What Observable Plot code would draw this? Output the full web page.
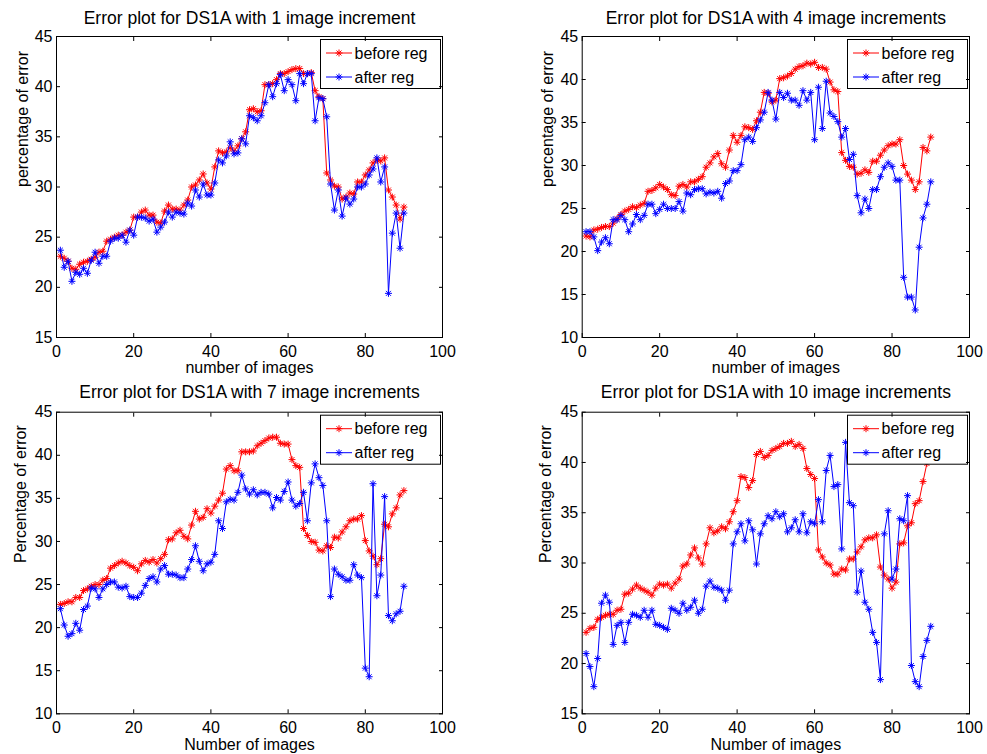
<!DOCTYPE html>
<html><head><meta charset="utf-8">
<script src="https://cdn.jsdelivr.net/npm/d3@7"></script>
<script src="https://cdn.jsdelivr.net/npm/@observablehq/plot@0.6"></script>
<style>
body{margin:0;background:#fff;}
#fig{position:relative;width:987px;height:754px;background:#fff;}
#fig svg{position:absolute;overflow:visible;}
</style></head><body><div id="fig"></div>
<script>
// ---------- data ----------
const xTicks = [0, 20, 40, 60, 80, 100];
const seriesNames = ["before reg", "after reg"];
const seriesColors = ["#ff0000", "#0000ff"];
const titles = [
  "Error plot for DS1A with 1 image increment",
  "Error plot for DS1A with 4 image increments",
  "Error plot for DS1A with 7 image increments",
  "Error plot for DS1A with 10 image increments"
];
const xLabels = ["number of images", "number of images", "Number of images", "Number of images"];
const yLabels = ["percentage of error", "percentage of error", "Percentage of error", "Percentage of error"];
const yTicks1 = [15, 20, 25, 30, 35, 40, 45];
const yTicks2 = [10, 15, 20, 25, 30, 35, 40, 45];
const yTicks3 = [10, 15, 20, 25, 30, 35, 40, 45];
const yTicks4 = [15, 20, 25, 30, 35, 40, 45];

// increment 1
const before1 = [23.1,22.9,22.6,21.9,21.8,22.3,22.5,22.6,22.8,23.0,
  23.5,23.6,24.6,24.8,25.0,25.2,25.2,25.5,25.7,27.0,
  27.0,27.5,27.7,27.2,27.2,26.5,26.4,27.6,28.2,27.8,
  27.8,27.7,28.2,28.7,30.0,30.2,30.7,31.3,30.4,29.8,
  32.0,33.6,33.4,33.5,33.9,33.6,34.1,34.8,35.5,37.7,
  37.8,37.5,37.6,40.2,40.2,40.3,40.7,41.3,41.3,41.5,
  41.7,41.8,41.8,41.3,41.3,41.4,39.6,39.0,38.8,31.4,
  30.7,30.1,30.0,28.8,29.0,29.4,29.3,30.5,30.5,31.2,
  31.7,32.4,32.7,32.6,32.9,29.7,29.0,28.2,26.8,28.0];
const after1 = [23.7,22.0,22.6,20.6,21.5,21.3,21.9,21.4,22.7,23.5,
  22.4,23.1,23.1,24.6,24.9,24.9,25.2,24.5,25.7,25.2,
  27.0,27.0,26.9,26.6,26.8,25.5,26.0,26.5,27.5,27.0,
  27.5,27.4,27.3,28.4,28.1,29.7,29.0,30.3,29.2,29.2,
  30.4,32.7,32.4,33.1,34.5,33.3,33.4,34.8,34.3,37.1,
  36.9,36.6,37.1,38.4,40.2,39.0,40.3,41.2,39.6,40.7,
  40.2,38.6,41.3,40.3,41.3,41.3,36.6,38.9,38.8,37.0,
  30.3,27.7,29.7,27.1,28.9,28.3,28.8,30.0,30.0,30.3,
  31.2,31.8,32.9,30.5,32.0,19.4,25.4,27.4,23.9,27.4];
// increment 4
const before4 = [21.8,21.7,22.5,22.6,22.8,22.9,22.9,23.3,23.8,24.3,
  24.7,24.9,25.2,25.1,25.4,25.6,27.0,27.1,27.4,27.8,
  27.5,27.2,26.6,26.5,27.6,27.8,27.5,28.1,28.1,28.4,
  28.7,29.8,30.3,31.0,31.4,30.2,29.8,31.8,33.5,32.7,
  33.5,34.5,34.4,34.2,35.2,36.2,38.5,38.4,37.4,37.6,
  40.1,40.2,40.4,40.7,41.2,41.5,41.6,41.9,41.8,42.0,
  41.4,41.4,41.2,39.7,38.8,38.6,31.5,30.6,29.9,29.8,
  29.0,29.1,29.5,29.2,30.5,30.5,31.2,31.8,32.3,32.5,
  32.5,33.0,30.0,29.0,28.3,27.2,28.1,32.1,31.7,33.3];
const after4 = [22.3,22.3,21.7,20.1,21.1,21.6,20.9,23.7,23.7,24.2,
  23.7,22.3,23.2,24.3,23.7,24.2,25.5,25.5,24.4,24.9,
  25.5,25.0,25.0,25.0,25.8,24.7,26.8,26.6,27.2,27.3,
  27.3,26.7,26.9,26.8,27.0,26.2,27.9,28.2,29.4,29.4,
  30.1,33.0,33.3,32.8,34.4,35.3,36.2,38.5,37.6,35.4,
  38.5,37.9,38.4,37.6,37.6,37.0,38.7,37.6,38.5,33.0,
  39.1,34.3,39.8,36.1,35.7,35.1,33.3,34.3,30.7,31.3,
  26.5,24.5,26.1,25.0,27.2,27.2,28.7,29.8,30.3,29.9,
  28.3,28.3,17.0,14.7,14.7,13.2,20.5,23.9,25.5,28.1];
// increment 7
const before7 = [22.7,22.8,23.0,23.0,23.5,23.5,24.3,24.5,24.8,25.0,
  25.0,25.5,25.7,26.9,27.2,27.5,27.7,27.5,27.2,27.0,
  26.6,27.4,27.8,27.6,27.9,27.5,28.0,28.5,30.2,30.3,
  31.0,31.3,30.6,30.3,31.9,33.5,32.6,32.8,33.8,33.3,
  34.1,34.8,35.6,38.4,38.8,38.2,38.2,40.4,40.4,40.4,
  40.5,41.1,41.4,41.7,42.0,42.1,42.1,41.4,41.3,41.3,
  39.5,38.8,38.6,31.5,30.7,30.0,29.9,29.0,28.9,29.5,
  29.3,30.5,30.4,31.1,31.7,32.4,32.6,32.6,33.0,30.1,
  28.9,28.3,27.3,28.0,32.0,31.7,33.2,33.9,35.4,35.9];
const after7 = [22.2,20.3,19.0,19.3,20.5,19.7,22.1,22.5,24.6,24.5,
  23.5,24.5,25.0,25.3,25.3,24.7,24.6,24.8,23.6,23.5,
  23.5,24.0,24.9,25.7,25.9,25.3,26.8,27.2,26.2,26.2,
  26.1,25.8,25.8,26.8,27.9,29.5,27.7,26.6,27.4,27.6,
  28.5,32.4,31.5,34.6,34.9,34.8,35.7,37.7,36.1,35.5,
  36.0,35.4,35.7,35.7,35.5,33.9,35.1,34.8,35.8,36.9,
  34.8,34.1,34.4,35.7,32.4,36.8,39.0,37.4,36.5,32.4,
  23.6,26.8,26.2,25.9,25.5,25.5,27.3,26.1,25.8,15.3,
  14.3,36.7,23.7,26.1,35.2,21.4,20.8,21.6,21.9,24.8];
// increment 10
const before10 = [23.1,23.5,23.6,24.4,24.6,24.8,24.9,24.9,25.3,25.4,
  26.9,27.0,27.4,27.8,27.5,27.3,27.1,26.8,27.5,27.9,
  27.8,27.9,27.5,28.0,28.4,29.7,29.9,30.8,31.5,30.5,
  29.9,31.9,33.5,33.0,33.2,33.6,33.4,34.1,35.1,36.2,
  38.6,38.5,37.5,38.2,40.8,41.1,40.5,40.7,41.2,41.4,
  41.6,41.9,41.9,42.1,41.6,41.8,41.4,39.4,38.8,38.4,
  31.3,30.6,30.0,29.8,28.9,28.9,29.4,29.3,30.4,30.4,
  31.1,31.6,32.3,32.5,32.5,32.8,29.6,28.8,28.4,27.5,
  28.1,31.9,32.0,33.7,34.0,35.9,36.2,38.1,39.9,41.8];
const after10 = [21.0,19.7,17.7,20.5,26.0,26.8,26.1,21.9,23.8,24.1,
  22.1,24.1,24.9,24.8,24.6,25.3,24.6,25.3,23.9,23.8,
  23.6,23.4,25.5,25.3,25.0,26.0,25.3,25.6,26.3,25.0,
  25.4,27.7,28.2,27.6,27.5,27.3,26.3,27.3,31.9,33.1,
  33.9,32.2,34.2,33.3,29.9,32.9,33.9,34.7,34.4,35.1,
  34.6,34.9,33.1,33.5,34.3,33.1,34.9,33.0,34.1,33.9,
  36.3,34.1,39.2,40.7,37.6,37.8,31.4,42.0,36.0,35.7,
  27.1,29.2,26.1,25.4,23.1,22.1,18.4,32.9,35.2,28.4,
  29.4,34.4,34.2,36.7,19.8,18.2,17.7,20.7,22.3,23.7];

// ---------- drawing ----------
const FONT = "'Liberation Sans', Arial, Helvetica, sans-serif";
const asterisk = {
  draw(ctx, size) {
    const r = Math.sqrt(size / Math.PI);
    const d = r * Math.SQRT1_2;
    ctx.moveTo(-r, 0); ctx.lineTo(r, 0);
    ctx.moveTo(0, -r); ctx.lineTo(0, r);
    ctx.moveTo(-d, -d); ctx.lineTo(d, d);
    ctx.moveTo(-d, d); ctx.lineTo(d, -d);
  }
};
const R = 3.5;

function legendMark() {
  return (index, scales, values, dims) => {
    const {width, marginRight, marginTop} = dims;
    const w = 120, h = 49;
    const x0 = width - marginRight - 1.5 - w, y0 = marginTop + 3.5;
    const g = d3.create("svg:g");
    g.append("rect").attr("x", x0).attr("y", y0).attr("width", w).attr("height", h)
      .attr("fill", "white").attr("stroke", "black").attr("stroke-width", 1);
    seriesNames.forEach((name, i) => {
      const y = y0 + 13.5 + i * 24;
      g.append("line").attr("x1", x0 + 5.5).attr("x2", x0 + 31.5).attr("y1", y).attr("y2", y)
        .attr("stroke", seriesColors[i]).attr("stroke-width", 1);
      g.append("path").attr("transform", `translate(${x0 + 18.5},${y})`)
        .attr("d", d3.symbol(asterisk, R * R * Math.PI)())
        .attr("fill", "none").attr("stroke", seriesColors[i]).attr("stroke-width", 1);
      g.append("text").attr("x", x0 + 34).attr("y", y).attr("dy", "0.35em")
        .attr("text-anchor", "start")
        .attr("fill", "black").attr("font-size", 16).attr("font-family", FONT).text(name);
    });
    return g.node();
  };
}

function panel(k, before, after, yDomain, yTicks, box) {
  const rows = (arr) => arr.map((v, i) => ({x: i + 1, y: v}));
  const series = [rows(before), rows(after)];
  const marks = [];
  series.forEach((s, i) => {
    marks.push(Plot.line(s, {x: "x", y: "y", stroke: seriesColors[i], strokeWidth: 1}));
    marks.push(Plot.dot(s, {x: "x", y: "y", stroke: seriesColors[i], fill: "none", symbol: asterisk, r: R, strokeWidth: 1}));
  });
  marks.push(legendMark());
  marks.push(Plot.frame({stroke: "black", strokeWidth: 1}));
  marks.push(Plot.axisX(xTicks, {anchor: "bottom", tickSize: -4, tickPadding: 12, label: null, stroke: "black", fill: "black", fontSize: 16}));
  marks.push(Plot.axisX(xTicks, {anchor: "top", tickSize: -4, fill: null, label: null, stroke: "black"}));
  marks.push(Plot.axisY(yTicks, {anchor: "left", tickSize: -4, tickPadding: 8, label: null, stroke: "black", fill: "black", fontSize: 16}));
  marks.push(Plot.axisY(yTicks, {anchor: "right", tickSize: -4, fill: null, label: null, stroke: "black"}));
  marks.push(Plot.text([titles[k]], {text: d => d, frameAnchor: "top", lineAnchor: "middle", dy: box.titleDy, fontSize: 17.5, fill: "black"}));
  marks.push(Plot.text([xLabels[k]], {text: d => d, frameAnchor: "bottom", lineAnchor: "middle", dy: 30.6, fontSize: 16, fill: "black"}));
  marks.push(Plot.text([yLabels[k]], {text: d => d, frameAnchor: "left", lineAnchor: "middle", dx: box.yLabelDx, rotate: -90, fontSize: 16, fill: "black"}));
  const svg = Plot.plot({
    width: box.w, height: box.h,
    marginLeft: box.ml, marginRight: box.mr, marginTop: box.mt, marginBottom: box.mb,
    style: {fontFamily: FONT, fontSize: "16px", color: "black", background: "transparent", overflow: "visible"},
    x: {domain: [0, 100]},
    y: {domain: yDomain},
    marks
  });
  svg.style.left = box.left + "px";
  svg.style.top = box.top + "px";
  document.getElementById("fig").appendChild(svg);
}

panel(0, before1, after1, [15, 45], yTicks1, {left: 0, top: 0, w: 494, h: 377, ml: 56, mr: 52, mt: 36, mb: 40, titleDy: -18.6, yLabelDx: -34});
panel(1, before4, after4, [10, 45], yTicks2, {left: 494, top: 0, w: 493, h: 377, ml: 87.7, mr: 18, mt: 36, mb: 40, titleDy: -18.6, yLabelDx: -34});
panel(2, before7, after7, [10, 45], yTicks3, {left: 0, top: 377, w: 494, h: 377, ml: 56, mr: 52, mt: 34.7, mb: 40.7, titleDy: -20, yLabelDx: -36});
panel(3, before10, after10, [15, 45], yTicks4, {left: 494, top: 377, w: 493, h: 377, ml: 87.7, mr: 18, mt: 34.7, mb: 40.7, titleDy: -20, yLabelDx: -36});
</script>
</body></html>
